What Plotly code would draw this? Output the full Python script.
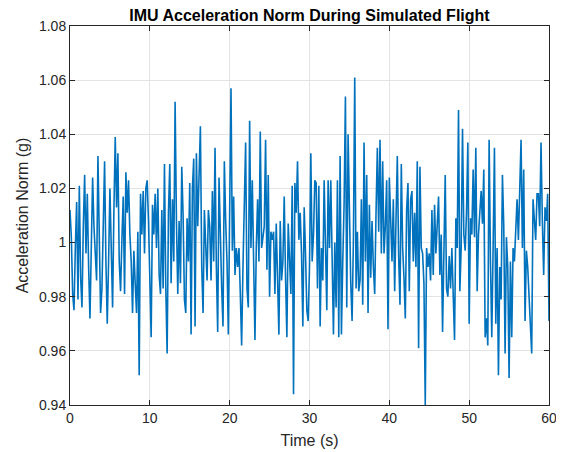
import plotly.graph_objects as go

# Sampling: one value every 1/6 s from 0 to 60 s
sample_step_s = 1.0 / 6.0

accel_norm_g = [
    # 0 - 6 s
    1.012, 1.002, 0.981, 0.975, 0.998, 1.015, 0.979, 1.021, 0.987, 0.976,
    1.006, 1.025, 0.996, 1.018, 0.991, 0.972, 0.998, 1.024, 1.006, 0.998,
    0.986, 1.032, 1.006, 0.974, 0.983, 1.008, 1.030, 0.993, 0.970, 0.993,
    1.020, 0.998, 0.976, 1.012, 1.039, 1.013,
    # 6 - 12 s
    1.033, 0.993, 0.982, 1.001, 1.017, 0.981, 1.026, 1.011, 1.023, 1.003,
    0.993, 0.974, 0.997, 0.985, 0.974, 1.004, 0.951, 1.018, 1.003, 1.019,
    0.996, 1.020, 1.023, 1.008, 0.991, 0.965, 1.014, 1.003, 1.018, 0.998,
    1.020, 0.988, 0.981, 1.012, 0.983, 1.029,
    # 12 - 18 s
    0.983, 0.959, 1.011, 1.029, 0.985, 1.016, 0.993, 1.052, 1.008, 0.981,
    1.008, 0.985, 1.028, 1.010, 0.979, 0.974, 1.009, 0.993, 1.022, 0.966,
    1.020, 1.031, 0.969, 1.033, 1.006, 1.024, 1.043, 0.991, 0.974, 1.012,
    1.001, 0.986, 1.012, 1.006, 0.986, 1.019,
    # 18 - 24 s
    0.993, 1.035, 0.991, 0.967, 1.024, 0.998, 0.983, 0.969, 1.030, 1.008,
    0.993, 0.966, 1.021, 1.057, 0.997, 1.017, 0.988, 0.998, 0.991, 0.998,
    0.981, 0.962, 0.991, 1.009, 1.037, 0.983, 0.976, 1.045, 0.998, 1.023,
    0.993, 0.964, 0.998, 1.016, 0.993, 1.041,
    # 24 - 30 s
    0.998, 1.002, 1.006, 1.038, 0.990, 1.025, 0.980, 1.004, 1.001, 1.004,
    0.981, 1.007, 0.991, 0.966, 1.008, 0.986, 0.993, 1.017, 0.987, 0.965,
    1.007, 0.991, 0.981, 1.021, 0.944, 1.022, 1.011, 1.030, 1.001, 1.011,
    0.996, 0.969, 1.013, 0.996, 0.975, 0.971,
    # 30 - 36 s
    0.991, 1.033, 0.993, 1.003, 1.023, 1.022, 0.983, 1.021, 0.969, 0.998,
    0.986, 1.023, 1.003, 0.975, 1.023, 0.998, 1.023, 0.988, 0.966, 1.000,
    0.976, 1.023, 0.965, 1.032, 0.966, 0.993, 1.014, 1.054, 0.976, 1.040,
    1.003, 0.985, 0.971, 1.001, 1.061, 0.983,
    # 36 - 42 s
    1.004, 0.982, 0.986, 1.016, 0.977, 1.037, 0.993, 1.025, 0.974, 1.014,
    0.987, 1.008, 0.991, 0.981, 1.011, 1.035, 1.004, 1.038, 0.996, 1.030,
    0.996, 1.006, 1.023, 0.968, 1.024, 1.008, 0.993, 1.016, 0.982, 1.008,
    1.032, 0.995, 0.977, 1.029, 0.998, 0.987, 0.972,
    # 42 - 48 s
    1.012, 1.022, 0.982, 1.016, 1.019, 0.993, 1.011, 0.991, 1.030, 0.961,
    1.028, 0.998, 0.996, 0.985, 0.940, 0.998, 0.991, 0.996, 0.986, 1.012,
    0.988, 1.014, 0.996, 1.007, 1.017, 0.988, 1.003, 0.967, 1.003, 1.025,
    0.983, 0.980, 0.995, 0.983, 0.998, 0.978,
    # 48 - 54 s
    0.964, 1.009, 0.998, 1.049, 0.982, 0.998, 1.042, 1.003, 0.997, 1.011,
    1.037, 0.970, 1.009, 1.003, 1.027, 1.002, 1.035, 0.982, 1.003, 1.011,
    1.019, 1.007, 1.027, 0.965, 0.972, 0.962, 1.038, 0.993, 0.965, 0.998,
    1.035, 0.970, 0.998, 0.951, 0.991, 0.979, 1.025, 1.006, 0.959,
    # 54 - 60 s
    1.002, 0.991, 0.950, 0.993, 0.965, 0.998, 0.993, 1.006, 1.016, 1.001,
    1.022, 1.038, 0.998, 1.027, 0.971, 0.997, 0.991, 0.981, 0.971, 0.959,
    1.016, 1.006, 1.001, 1.018, 1.018, 1.006, 1.037, 1.008, 0.988, 1.013,
    1.008, 1.018, 0.971, 1.029, 0.982,
]

time_s = [i * sample_step_s for i in range(len(accel_norm_g))]

x_ticks = [0, 10, 20, 30, 40, 50, 60]
y_ticks = [0.94, 0.96, 0.98, 1.00, 1.02, 1.04, 1.06, 1.08]
y_tick_labels = ["0.94", "0.96", "0.98", "1", "1.02", "1.04", "1.06", "1.08"]

axis_color = "#262626"
grid_color = "#e3e3e3"
font_family = "Liberation Sans, Arial, sans-serif"

# The page body has an 8 px margin, so the figure is sized to fit inside it.
fig_w, fig_h = 556, 444

fig = go.Figure()
fig.add_trace(go.Scatter(
    x=time_s, y=accel_norm_g, mode="lines",
    line=dict(color="#0072BD", width=1.6),
    showlegend=False, hoverinfo="skip",
))

fig.update_layout(
    width=fig_w, height=fig_h,
    margin=dict(l=62, r=15, t=18, b=47),
    paper_bgcolor="white", plot_bgcolor="white",
    font=dict(family=font_family, size=14, color=axis_color),
    title=dict(
        text="<b>IMU Acceleration Norm During Simulated Flight</b>",
        x=0.5, xref="paper", xanchor="center",
        y=1 - 2 / fig_h, yref="container", yanchor="top",
        font=dict(size=16, color="black", family=font_family),
    ),
)

fig.update_xaxes(
    range=[0, 60], tickvals=x_ticks, ticktext=[str(v) for v in x_ticks],
    showline=True, linecolor=axis_color, linewidth=1, mirror="ticks",
    ticks="inside", ticklen=5, tickcolor=axis_color, automargin=False,
    showgrid=True, gridcolor=grid_color, gridwidth=1, zeroline=False,
    title=dict(text="Time (s)", font=dict(size=16, color=axis_color), standoff=10),
    tickfont=dict(size=14, color=axis_color),
)
fig.update_yaxes(
    range=[0.94, 1.08], tickvals=y_ticks, ticktext=y_tick_labels,
    showline=True, linecolor=axis_color, linewidth=1, mirror="ticks",
    ticks="inside", ticklen=5, tickcolor=axis_color, automargin=False,
    showgrid=True, gridcolor=grid_color, gridwidth=1, zeroline=False,
    title=dict(text="Acceleration Norm (g)", font=dict(size=16, color=axis_color), standoff=6),
    tickfont=dict(size=14, color=axis_color),
)

fig.write_html("out.html")
